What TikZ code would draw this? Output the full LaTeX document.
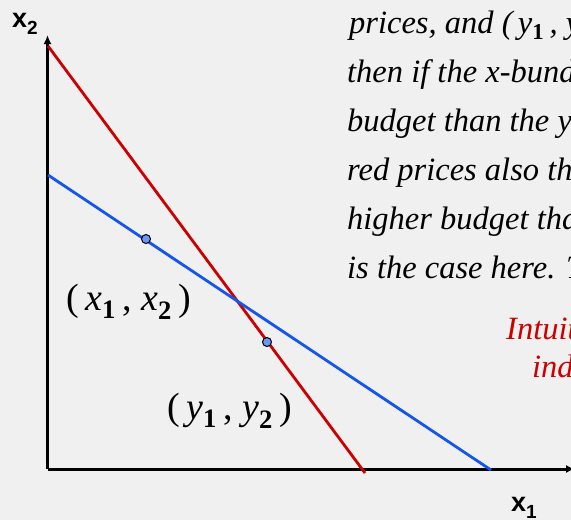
\documentclass[tikz,border=0pt]{standalone}
\usepackage{fontspec}
\setmainfont{Liberation Serif}
\setsansfont{Liberation Sans}
\usetikzlibrary{arrows.meta}
\definecolor{panelgray}{RGB}{240,240,240}
\definecolor{budgetred}{RGB}{204,0,0}
\definecolor{budgetblue}{RGB}{20,85,235}
\definecolor{bundleblue}{RGB}{105,150,250}
\newcommand{\bsub}[1]{\textsubscript{\upshape\bfseries #1}}

\begin{document}
\begin{tikzpicture}[x=1pt,y=-1pt,
    bundledot/.style={circle,draw=black,fill=bundleblue,line width=1pt,inner sep=0pt,minimum size=9pt},
    axislabel/.style={font=\sffamily\bfseries\fontsize{27}{27}\selectfont,inner sep=0pt},
    bundlelabel/.style={font=\fontsize{38}{38}\selectfont,inner sep=0pt,anchor=base west},
    note/.style={font=\itshape\fontsize{32.5}{32.5}\selectfont,inner sep=0pt,anchor=base west}]
    \clip (0,0) rectangle (571,520);
    \fill[panelgray] (0,0) rectangle (571,520);

    % Axes
    \coordinate (origin) at (47.5,469);
    \coordinate (ytop) at (47.5,35);
    \coordinate (xend) at (575,469);
    \draw[line width=3pt,-{Latex[length=9pt,width=8pt]}] (origin) -- (ytop);
    \draw[line width=3pt,-{Latex[length=9pt,width=8pt]}] (origin) -- (xend);
    \node[axislabel,anchor=base west] (xtwo) at (12,27) {x\raisebox{-7pt}{\fontsize{19}{19}\selectfont 2}};
    \node[axislabel,anchor=base west] (xone) at (511,511) {x\raisebox{-7pt}{\fontsize{19}{19}\selectfont 1}};

    % Budget lines
    \coordinate (redtop) at (48,46);
    \coordinate (redend) at (365,473);
    \coordinate (bluetop) at (48,175);
    \coordinate (blueend) at (491,470);
    \draw[budgetred, line width=2.8pt] (redtop) -- (redend);
    \draw[budgetblue, line width=2.8pt] (bluetop) -- (blueend);

    % Bundles
    \node[bundledot] (xbundle) at (146,239) {};
    \node[bundledot] (ybundle) at (267,342) {};
    \node[bundlelabel] (xname) at (66,310) {(\,\textit{x}\bsub{1}\,, \textit{x}\bsub{2}\,)};
    \node[bundlelabel] (yname) at (167,419) {(\,\textit{y}\bsub{1}\,, \textit{y}\bsub{2}\,)};

    % Text (runs past the edge)
    \node[note] (line1) at (349,33) {prices, and (\,\textit{y}\bsub{1}\,, \textit{y}};
    \node[note] (line2) at (347,82) {then if the x-bund};
    \node[note] (line3) at (347,131) {budget than the y};
    \node[note] (line4) at (347,180) {red prices also th};
    \node[note] (line5) at (347,229) {higher budget tha};
    \node[note] (line6) at (347,278) {is the case here. T};
    \node[note,text=budgetred] (hint1) at (506,339) {Intuit};
    \node[note,text=budgetred] (hint2) at (532,377) {ind};
\end{tikzpicture}
\end{document}
